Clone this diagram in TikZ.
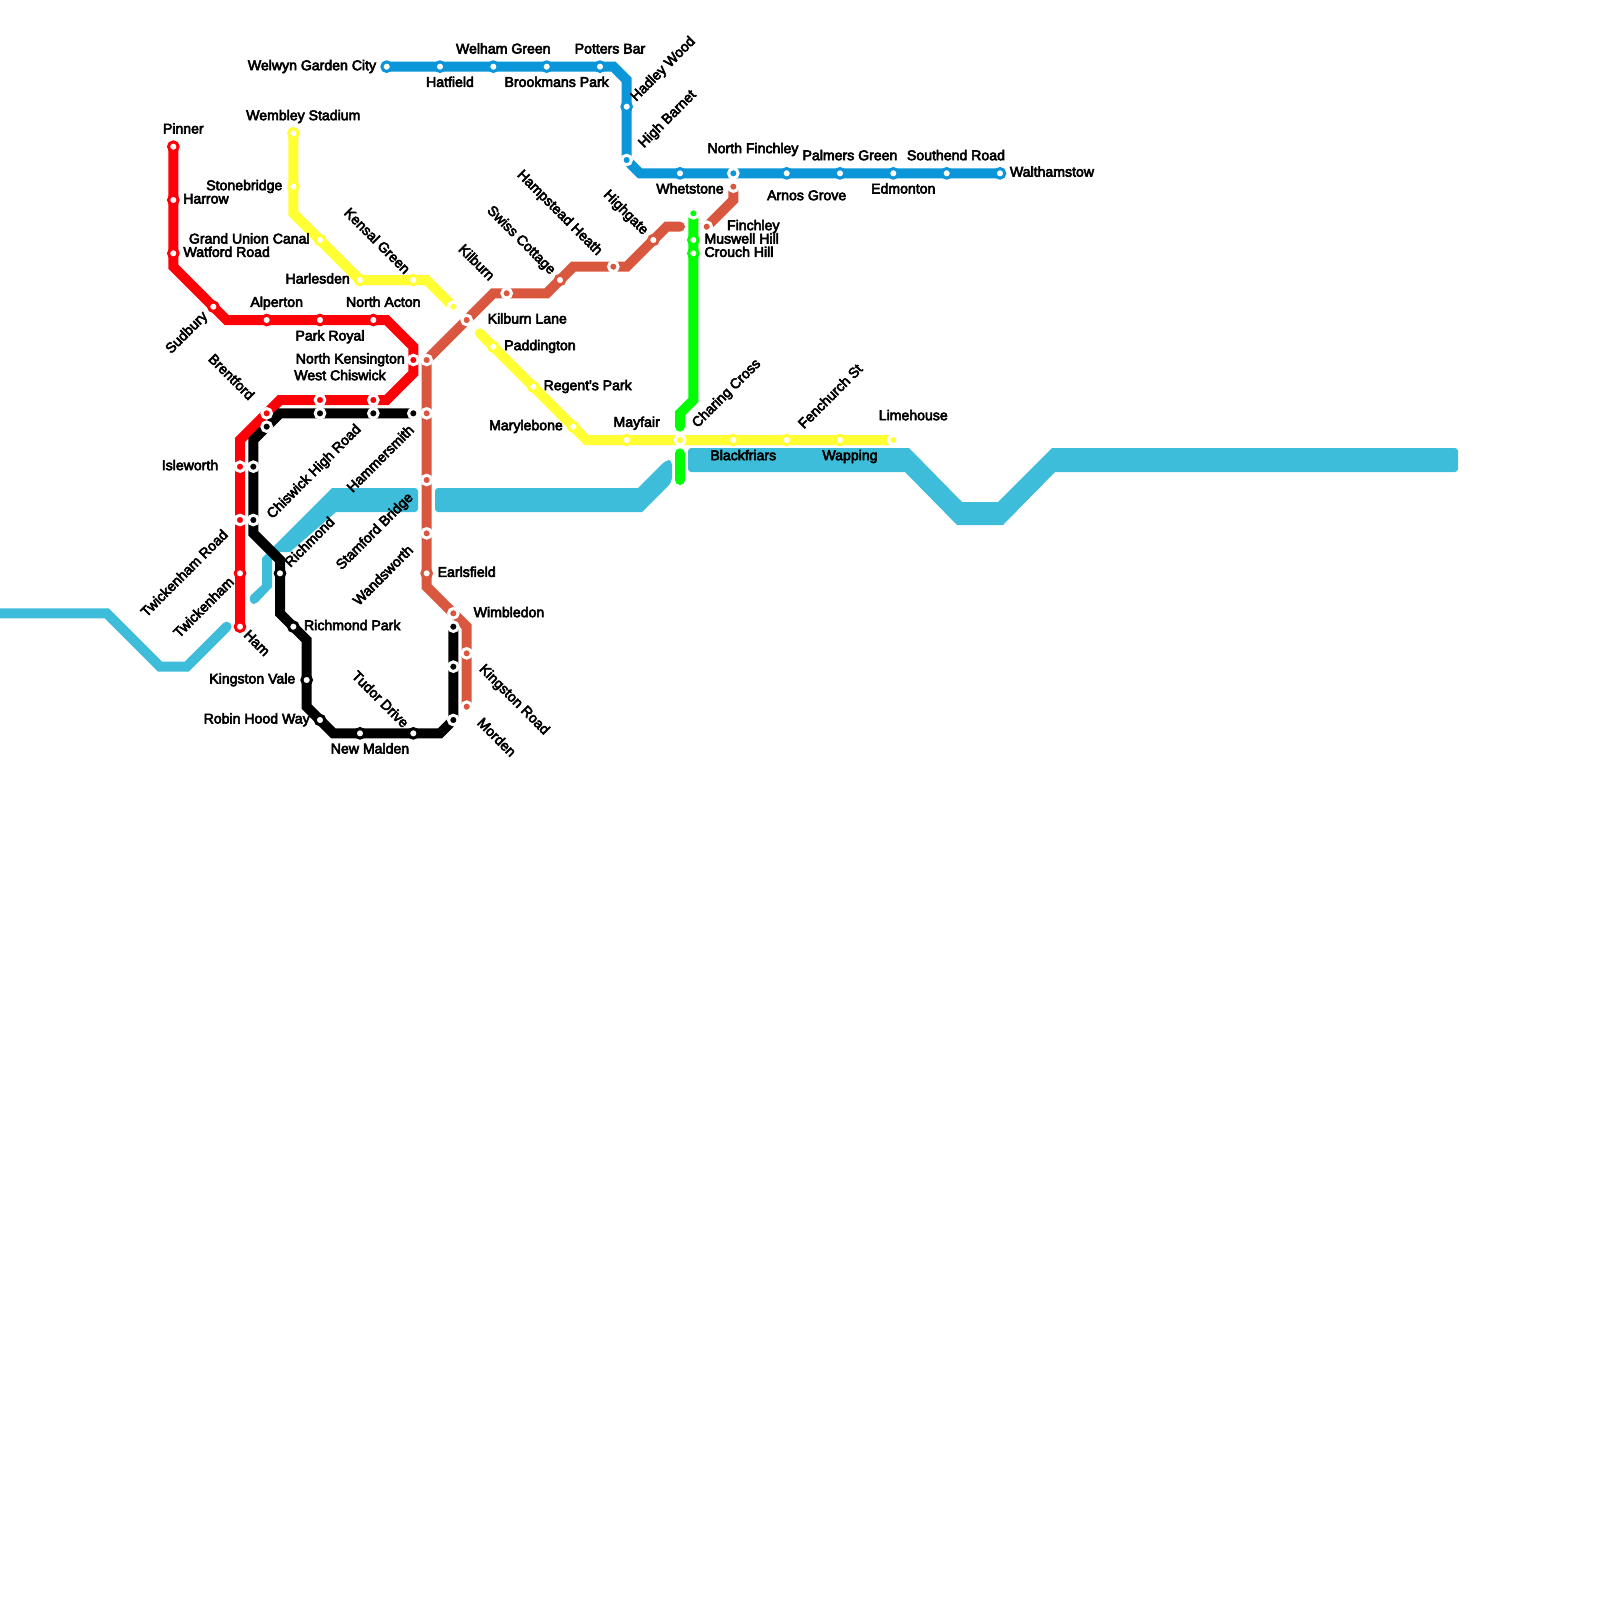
\documentclass[tikz,border=0pt]{standalone}
\usepackage{fontspec}
\newfontfamily\lblfont[FakeBold=4]{Liberation Sans}
\definecolor{mred}{HTML}{FF0008}
\definecolor{myel}{HTML}{FFFF33}
\definecolor{mora}{HTML}{D9573F}
\definecolor{mblu}{HTML}{0A96D8}
\definecolor{mriv}{HTML}{3DBDD9}
\definecolor{mgrn}{HTML}{00FF00}
\pgfdeclarelayer{under}
\pgfsetlayers{under,main}
\tikzset{
  stW/.style={circle,inner sep=0pt,minimum size=4.8pt,draw=#1,fill=white,line width=1.5pt},
  stC/.style={circle,inner sep=0pt,minimum size=4.8pt,draw=white,fill=#1,line width=1.5pt},
  lbl/.style={inner sep=0pt,anchor=center,text height=5.2pt,text depth=0pt,font=\lblfont\fontsize{7.05pt}{9pt}\selectfont,text=black},
  ln/.style={line width=5pt,line cap=round,line join=miter,draw=#1},
  riv/.style={fill=mriv,rounded corners=1.6pt}
}
\newcommand{\st}[5]{\node[#1=#2] (#3) at (#4,#5) {};}
\newcommand{\lb}[5]{\node[lbl,rotate=#4] (#1) at ({#2*0.075},{#3*0.075}) {#5};}
\begin{document}
\begin{tikzpicture}[x=6.66667pt,y=-6.66667pt]
\path[use as bounding box] (0,0) rectangle (120,120);
% red
\st{stW}{mred}{pinner}{13}{11}
\st{stW}{mred}{harrow}{13}{15}
\st{stW}{mred}{watford}{13}{19}
\st{stW}{mred}{sudbury}{16}{23}
\st{stW}{mred}{alperton}{20}{24}
\st{stW}{mred}{parkroyal}{24}{24}
\st{stW}{mred}{northacton}{28}{24}
\st{stC}{mred}{northken}{31}{27}
\st{stC}{mred}{westchis}{28}{30}
\st{stC}{mred}{redb}{24}{30}
\st{stC}{mred}{brentford}{20}{31}
\st{stC}{mred}{isleworth}{18}{35}
\st{stC}{mred}{twickrd}{18}{39}
\st{stW}{mred}{twick}{18}{43}
\st{stW}{mred}{ham}{18}{47}
% black
\st{stC}{black}{bka}{31}{31}
\st{stC}{black}{bkb}{28}{31}
\st{stC}{black}{bkc}{24}{31}
\st{stC}{black}{bkd}{20}{32}
\st{stC}{black}{bke}{19}{35}
\st{stC}{black}{chiswick}{19}{39}
\st{stW}{black}{richmond}{21}{43}
\st{stW}{black}{richpark}{22}{47}
\st{stW}{black}{kingvale}{23}{51}
\st{stW}{black}{robinhood}{24}{54}
\st{stW}{black}{newmalden}{27}{55}
\st{stW}{black}{tudor}{31}{55}
\st{stC}{black}{bkf}{34}{54}
\st{stC}{black}{bkg}{34}{50}
\st{stC}{black}{bkh}{34}{47}
% yellow
\st{stW}{myel}{wembley}{22}{10}
\st{stW}{myel}{stonebridge}{22}{14}
\st{stW}{myel}{grandunion}{24}{18}
\st{stW}{myel}{harlesden}{27}{21}
\st{stW}{myel}{kensal}{31}{21}
\st{stC}{myel}{yela}{34}{23}
\st{stW}{myel}{paddington}{37}{26}
\st{stW}{myel}{regents}{40}{29}
\st{stW}{myel}{marylebone}{43}{32}
\st{stW}{myel}{mayfair}{47}{33}
\st{stC}{myel}{charing}{51}{33}
\st{stW}{myel}{blackfriars}{55}{33}
\st{stW}{myel}{fenchurch}{59}{33}
\st{stW}{myel}{wapping}{63}{33}
\st{stC}{myel}{limehouse}{67}{33}
% orange
\st{stC}{mora}{morden}{35}{53}
\st{stC}{mora}{kingrd}{35}{49}
\st{stC}{mora}{wimbledon}{34}{46}
\st{stW}{mora}{earlsfield}{32}{43}
\st{stC}{mora}{wandsworth}{32}{40}
\st{stC}{mora}{stamford}{32}{36}
\st{stC}{mora}{hammer}{32}{31}
\st{stC}{mora}{orb}{32}{27}
\st{stC}{mora}{kilburnlane}{35}{24}
\st{stC}{mora}{kilburn}{38}{22}
\st{stW}{mora}{swiss}{42}{21}
\st{stC}{mora}{hampstead}{46}{20}
\st{stW}{mora}{highgate}{49}{18}
\st{stC}{mora}{finchley}{53}{17}
\st{stC}{mora}{ora}{55}{14}
% blue
\st{stW}{mblu}{welwyn}{29}{5}
\st{stW}{mblu}{hatfield}{33}{5}
\st{stW}{mblu}{welham}{37}{5}
\st{stW}{mblu}{brookmans}{41}{5}
\st{stW}{mblu}{potters}{45}{5}
\st{stW}{mblu}{hadley}{47}{8}
\st{stC}{mblu}{highbarnet}{47}{12}
\st{stW}{mblu}{whetstone}{51}{13}
\st{stC}{mblu}{northfinch}{55}{13}
\st{stW}{mblu}{arnos}{59}{13}
\st{stW}{mblu}{palmers}{63}{13}
\st{stW}{mblu}{edmonton}{67}{13}
\st{stW}{mblu}{southend}{71}{13}
\st{stW}{mblu}{walthamstow}{75}{13}
% green
\st{stC}{mgrn}{grna}{52}{16}
\st{stW}{mgrn}{muswell}{52}{18}
\st{stW}{mgrn}{crouch}{52}{19}
% bends and free ends
\coordinate (r1) at (13,20); \coordinate (r2) at (17,24); \coordinate (r3) at (29,24);
\coordinate (r4) at (31,26); \coordinate (r5) at (31,28); \coordinate (r6) at (29,30);
\coordinate (r7) at (21,30); \coordinate (r8) at (18,33);
\coordinate (k1) at (21,31); \coordinate (k2) at (19,33); \coordinate (k3) at (19,40);
\coordinate (k4) at (21,42); \coordinate (k5) at (21,46); \coordinate (k6) at (23,48);
\coordinate (k7) at (23,53); \coordinate (k8) at (25,55); \coordinate (k9) at (33,55);
\coordinate (y1) at (22,16); \coordinate (y2) at (32,21); \coordinate (y3) at (36,25); \coordinate (y4) at (44,33);
\coordinate (o1) at (35,47); \coordinate (o2) at (32,44); \coordinate (o3) at (37,22);
\coordinate (o4) at (41,22); \coordinate (o5) at (43,20); \coordinate (o6) at (47,20);
\coordinate (o7) at (50,17); \coordinate (o8) at (51,17); \coordinate (o9) at (55,15);
\coordinate (b1) at (46,5); \coordinate (b2) at (47,6); \coordinate (b3) at (48,13);
\coordinate (g1) at (52,30); \coordinate (g2) at (51,31); \coordinate (g3) at (51,32);
\coordinate (g4) at (51,34); \coordinate (g5) at (51,36);
\coordinate (t0) at (-1,46); \coordinate (t1) at (8,46); \coordinate (t2) at (12,50);
\coordinate (t3) at (14,50); \coordinate (t4) at (17,47);
% labels
\lb{lPinner}{183.3}{128.3}{0}{Pinner}
\lb{lHarrow}{206}{198.3}{0}{Harrow}
\lb{lWatford}{226.7}{251.7}{0}{Watford Road}
\lb{lSudbury}{186}{332}{45}{Sudbury}
\lb{lAlperton}{276.7}{301.7}{0}{Alperton}
\lb{lParkRoyal}{330}{335.3}{0}{Park Royal}
\lb{lNorthActon}{383.3}{301.7}{0}{North Acton}
\lb{lNorthKen}{350.3}{358.3}{0}{North Kensington}
\lb{lWestChis}{340}{375}{0}{West Chiswick}
\lb{lBrentford}{231.7}{376.7}{-45}{Brentford}
\lb{lIsleworth}{190}{465}{0}{Isleworth}
\lb{lWembley}{303.3}{115}{0}{Wembley Stadium}
\lb{lStonebridge}{244.3}{185}{0}{Stonebridge}
\lb{lGrandUnion}{249.3}{238.3}{0}{Grand Union Canal}
\lb{lHarlesden}{317.7}{278.3}{0}{Harlesden}
\lb{lKensal}{377.5}{240.5}{-45}{Kensal Green}
\lb{lKilburn}{477}{262}{-45}{Kilburn}
\lb{lChiswick}{313.3}{471}{45}{Chiswick High Road}
\lb{lHammer}{380}{458.3}{45}{Hammersmith}
\lb{lStamford}{374}{530.7}{45}{Stamford Bridge}
\lb{lRichmond}{309.3}{541.7}{45}{Richmond}
\lb{lWandsworth}{382.7}{575}{45}{Wandsworth}
\lb{lEarlsfield}{466.7}{571.7}{0}{Earlsfield}
\lb{lTwickRd}{184}{573}{45}{Twickenham Road}
\lb{lTwick}{203.3}{607}{45}{Twickenham}
\lb{lHam}{257.3}{642.7}{-45}{Ham}
\lb{lRichPark}{352.3}{625}{0}{Richmond Park}
\lb{lKingVale}{252.3}{678.3}{0}{Kingston Vale}
\lb{lRobin}{256.7}{718.3}{0}{Robin Hood Way}
\lb{lNewMalden}{370}{748.3}{0}{New Malden}
\lb{lTudor}{380.7}{699}{-45}{Tudor Drive}
\lb{lWimbledon}{509}{612}{0}{Wimbledon}
\lb{lKingRd}{515}{699}{-45}{Kingston Road}
\lb{lMorden}{497}{737}{-45}{Morden}
\lb{lKilburnLane}{527.3}{318.3}{0}{Kilburn Lane}
\lb{lSwiss}{522}{239.5}{-45}{Swiss Cottage}
\lb{lHampstead}{560.5}{212}{-45}{Hampstead Heath}
\lb{lHighgate}{626.7}{211.7}{-45}{Highgate}
\lb{lPaddington}{540}{345}{0}{Paddington}
\lb{lRegents}{587.7}{385}{0}{Regent's Park}
\lb{lMarylebone}{526}{425}{0}{Marylebone}
\lb{lMayfair}{636.7}{421.7}{0}{Mayfair}
\lb{lWhetstone}{690}{188.3}{0}{Whetstone}
\lb{lArnos}{806.7}{195}{0}{Arnos Grove}
\lb{lPalmers}{850}{155}{0}{Palmers Green}
\lb{lEdmonton}{903.3}{188.3}{0}{Edmonton}
\lb{lFinchley}{753.3}{225}{0}{Finchley}
\lb{lMuswell}{741.7}{238.3}{0}{Muswell Hill}
\lb{lCrouch}{739}{251.7}{0}{Crouch Hill}
\lb{lCharing}{725.7}{392.7}{45}{Charing Cross}
\lb{lFenchurch}{830}{396}{45}{Fenchurch St}
\lb{lLimehouse}{913.3}{415}{0}{Limehouse}
\lb{lBlackfriars}{743.3}{455}{0}{Blackfriars}
\lb{lWapping}{850}{455}{0}{Wapping}
\lb{lNorthFinch}{753}{148}{0}{North Finchley}
\lb{lSouthend}{956}{155}{0}{Southend Road}
\lb{lWalthamstow}{1052}{171.5}{0}{Walthamstow}
\lb{lWelwyn}{312}{65}{0}{Welwyn Garden City}
\lb{lHatfield}{450}{81.7}{0}{Hatfield}
\lb{lWelham}{503.3}{48.3}{0}{Welham Green}
\lb{lBrookmans}{556.7}{81.7}{0}{Brookmans Park}
\lb{lPotters}{610}{48.3}{0}{Potters Bar}
\lb{lHadley}{662.3}{68.3}{45}{Hadley Wood}
\lb{lHighBarnet}{666.7}{118.3}{45}{High Barnet}
\begin{pgfonlayer}{under}
\fill[white] (0,0) rectangle (120,120);
% river, in pixel coordinates
\begin{scope}[x=0.5pt,y=-0.5pt]
\fill[riv] (688,448) [sharp corners] -- (909,448) -- (962,502) -- (998,502) -- (1052,448) [rounded corners=1.6pt] -- (1458,448) -- (1458,472) [sharp corners] -- (1055,472) -- (1003,525) -- (957,525) -- (905,472) [rounded corners=1.6pt] -- (688,472) -- cycle;
\fill[riv,rounded corners=2.2pt] (435,488) [sharp corners] -- (638,488) [rounded corners=2.2pt] -- (666,460) -- (672,460) -- (672,482) [sharp corners] -- (642,512) [rounded corners=1.6pt] -- (435,512) -- cycle;
\fill[riv] (418,488) [sharp corners] -- (332,488) -- (262,558) -- (262,585) [rounded corners=1.6pt] -- (249,597) -- (251,604) -- (256,604) [sharp corners] -- (272,587) -- (272,560) -- (280,552) -- (290,552) -- (336,512) [rounded corners=1.6pt] -- (418,512) -- cycle;
\end{scope}
\draw[ln=mriv] (t0) -- (t1) -- (t2) -- (t3) -- (t4);
% lines
\draw[ln=mred] (pinner.center) -- (harrow.center) -- (watford.center) -- (r1) -- (sudbury.center) -- (r2) -- (alperton.center) -- (parkroyal.center) -- (northacton.center) -- (r3) -- (r4) -- (northken.center) -- (r5) -- (r6) -- (westchis.center) -- (redb.center) -- (r7) -- (brentford.center) -- (r8) -- (isleworth.center) -- (twickrd.center) -- (twick.center) -- (ham.center);
\draw[ln=black] (bka.center) -- (bkb.center) -- (bkc.center) -- (k1) -- (bkd.center) -- (k2) -- (bke.center) -- (chiswick.center) -- (k3) -- (k4) -- (richmond.center) -- (k5) -- (richpark.center) -- (k6) -- (kingvale.center) -- (k7) -- (robinhood.center) -- (k8) -- (newmalden.center) -- (tudor.center) -- (k9) -- (bkf.center) -- (bkg.center) -- (bkh.center);
\draw[ln=myel] (wembley.center) -- (stonebridge.center) -- (y1) -- (grandunion.center) -- (harlesden.center) -- (kensal.center) -- (y2) -- (yela.center);
\draw[ln=myel] (y3) -- (paddington.center) -- (regents.center) -- (marylebone.center) -- (y4) -- (mayfair.center) -- (charing.center) -- (blackfriars.center) -- (fenchurch.center) -- (wapping.center) -- (limehouse.center);
\draw[ln=mora] (morden.center) -- (kingrd.center) -- (o1) -- (wimbledon.center) -- (o2) -- (earlsfield.center) -- (wandsworth.center) -- (stamford.center) -- (hammer.center) -- (orb.center) -- (kilburnlane.center) -- (o3) -- (kilburn.center) -- (o4) -- (swiss.center) -- (o5) -- (hampstead.center) -- (o6) -- (highgate.center) -- (o7) -- (o8);
\draw[ln=mora] (finchley.center) -- (o9) -- (ora.center);
\draw[ln=mblu] (welwyn.center) -- (hatfield.center) -- (welham.center) -- (brookmans.center) -- (potters.center) -- (b1) -- (b2) -- (hadley.center) -- (highbarnet.center) -- (b3) -- (whetstone.center) -- (northfinch.center) -- (arnos.center) -- (palmers.center) -- (edmonton.center) -- (southend.center) -- (walthamstow.center);
\draw[ln=mgrn] (grna.center) -- (muswell.center) -- (crouch.center) -- (g1) -- (g2) -- (g3);
\draw[ln=mgrn] (g4) -- (g5);
\end{pgfonlayer}
\end{tikzpicture}
\end{document}
